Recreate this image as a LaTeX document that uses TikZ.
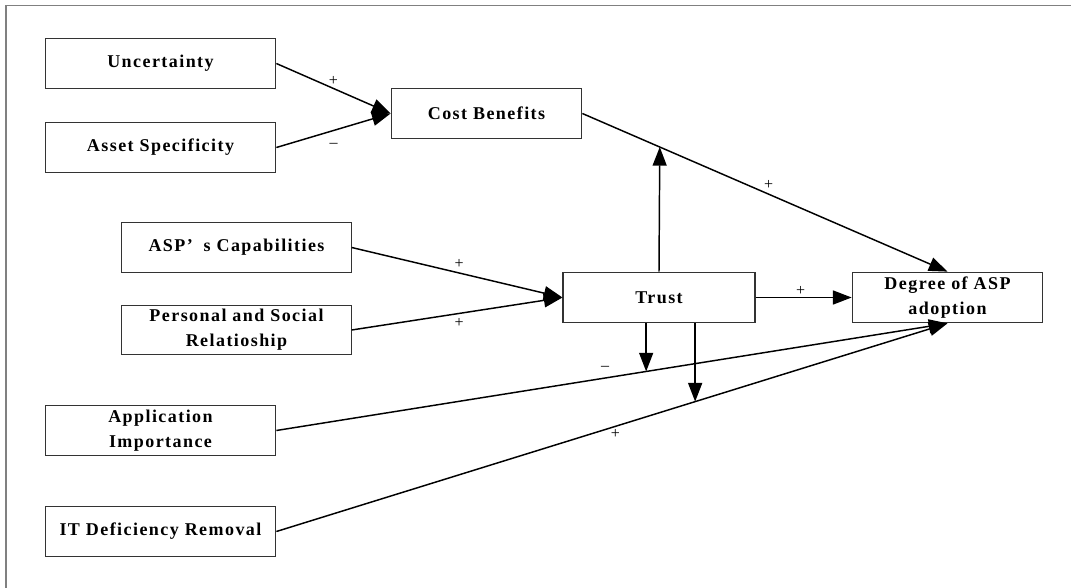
\documentclass[tikz,border=0pt]{standalone}
\usepackage{fontspec}
\setmainfont{Liberation Serif}
\newfontfamily\boxfont{Liberation Serif}[LetterSpace=8]
\usetikzlibrary{arrows.meta}
\tikzset{
	>={Triangle[length=14pt,width=10.5pt]}, % big filled arrow heads
	factor/.style={draw=black!80, line width=0.8pt, inner sep=0pt, minimum width=173pt, minimum height=37pt, align=center, font=\boxfont\bfseries\fontsize{13.5}{18.75}\selectfont}, % every box of the model
	signlabel/.style={font=\fontsize{12}{14}\selectfont, inner sep=1pt}, % the + and - on the edges
}
\begin{document}
\begin{tikzpicture}[x=0.75pt, y=-0.75pt, line width=1.1pt]
		\useasboundingbox (0,0) rectangle (1071,588);
		% Frame
		\draw[black!50, line width=1.3pt] (6,588) -- (6,5.5) -- (1071,5.5);
		
		% Define factors
		\node[factor] (unc) at (160.5,63.5) {Uncertainty};
		\node[factor] (asset) at (160.5,147.5) {Asset Specificity};
		\node[factor, minimum width=143pt, minimum height=38pt] (cost) at (486.5,113.5) {Cost Benefits};
		\node[factor, minimum width=172pt] (cap) at (236.5,247.5) {ASP’\hspace{0.6em}s Capabilities};
		\node[factor, minimum width=172pt] (rel) at (236.5,330) {Personal and Social\\Relatioship};
		\node[factor, minimum width=144pt, minimum height=38pt] (trust) at (659,297.5) {Trust};
		\node[factor, minimum width=143pt, minimum height=38pt] (adopt) at (947.5,297.5) {Degree of ASP\\adoption};
		\node[factor, minimum height=38pt] (app) at (160.5,430.5) {Application\\Importance};
		\node[factor, minimum height=38pt] (itdef) at (160.5,531.5) {IT Deficiency Removal};
		
		% Points where the moderating arrows end
		\path (cost.east) -- (adopt.north) coordinate[pos=0.212] (modcost);
		\path (app.east) -- (adopt.south) coordinate[pos=0.551] (modapp);
		\path (itdef.east) -- (adopt.south) coordinate[pos=0.624] (modit);
		
		% Transitions
		\path[->]
		(unc.east) edge node[signlabel, pos=0.5, above=1pt] {+} (cost.west)
		(asset.east) edge node[signlabel, pos=0.5, below=8pt] {–} (cost.west)
		(cost.east) edge node[signlabel, pos=0.51, above=2pt] {+} (adopt.north)
		(cap.east) edge node[signlabel, pos=0.51, above=2pt] {+} (trust.west)
		(rel.east) edge node[signlabel, pos=0.51, below=2pt] {+} (trust.west)
		(trust.east) edge node[signlabel, pos=0.47, above=0pt] {+} (adopt.west)
		(app.east) edge node[signlabel, pos=0.49, above=4pt] {–} (adopt.south)
		(itdef.east) edge node[signlabel, pos=0.505, below=1pt] {+} (adopt.south)
		(trust.north) edge (modcost)
		(modapp |- trust.south) edge (modapp)
		(modit |- trust.south) edge (modit);
	\end{tikzpicture}
\end{document}
